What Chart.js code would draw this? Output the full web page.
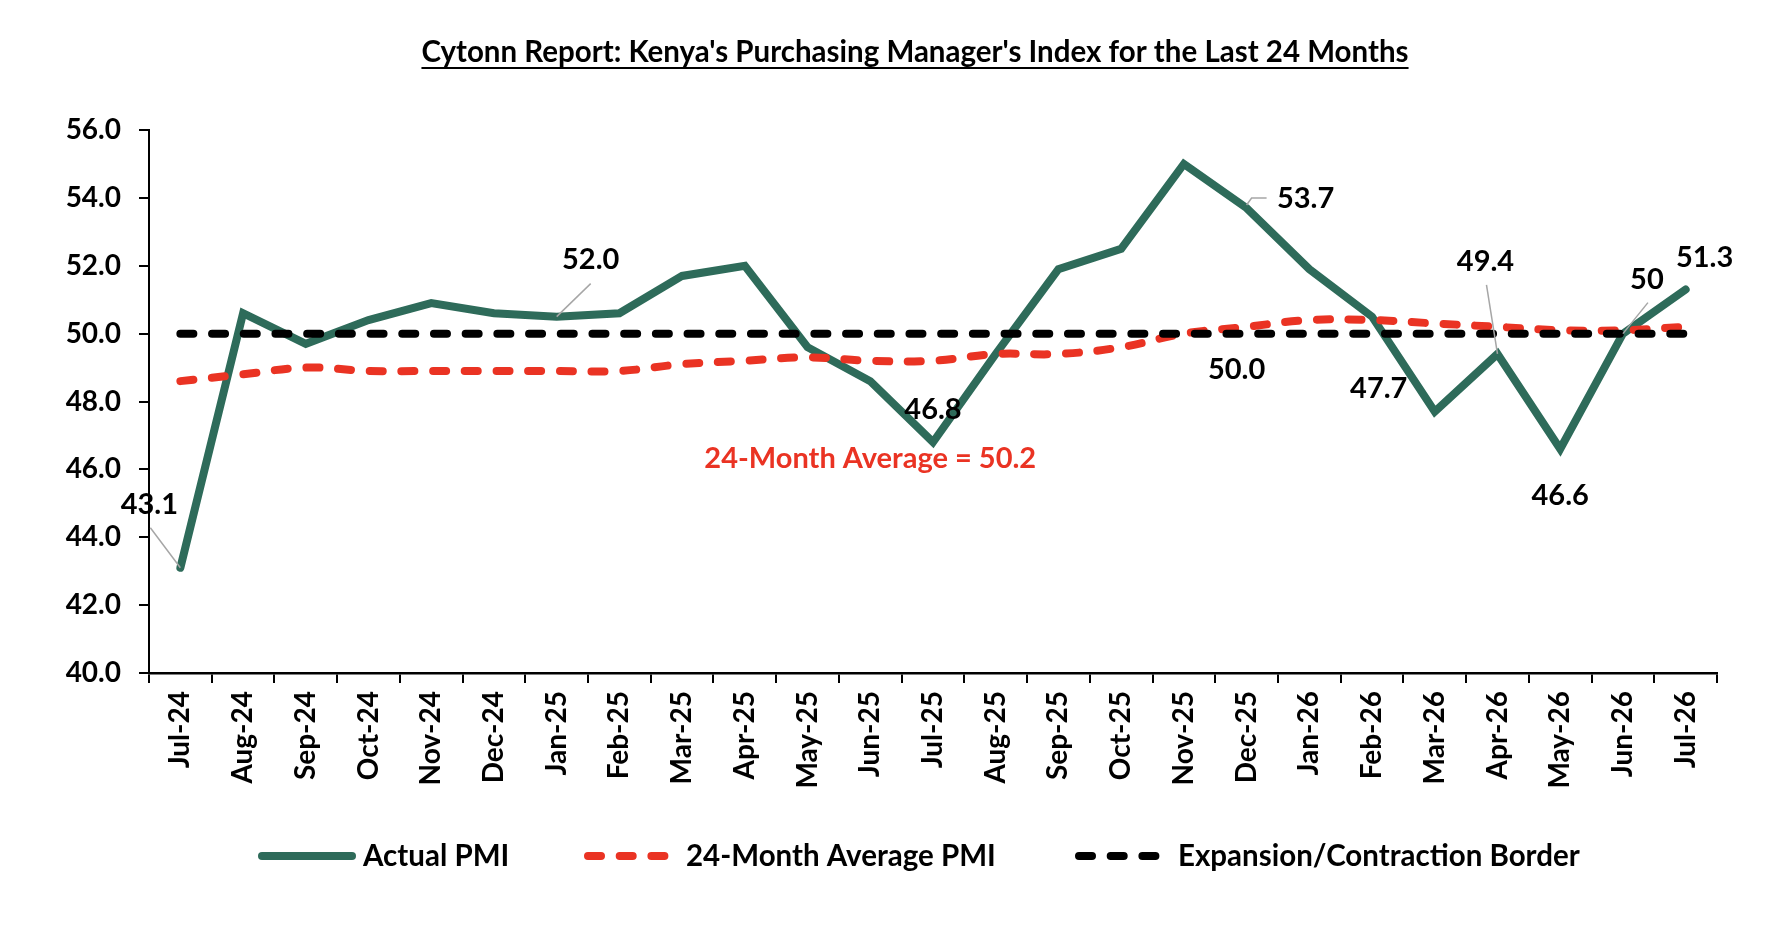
<!DOCTYPE html>
<html>
<head>
<meta charset="utf-8">
<script src="https://cdn.jsdelivr.net/npm/chart.js@4.4.1/dist/chart.umd.min.js"></script>
<style>
  html, body { margin: 0; padding: 0; background: #fff; }
  #wrap { width: 1780px; height: 938px; }
</style>
</head>
<body>
<div id="wrap"><canvas id="pmiChart" width="1780" height="938"></canvas></div>
<script>
// data
var months = ['Jul-24', 'Aug-24', 'Sep-24', 'Oct-24', 'Nov-24', 'Dec-24', 'Jan-25', 'Feb-25', 'Mar-25',
  'Apr-25', 'May-25', 'Jun-25', 'Jul-25', 'Aug-25', 'Sep-25', 'Oct-25', 'Nov-25', 'Dec-25', 'Jan-26',
  'Feb-26', 'Mar-26', 'Apr-26', 'May-26', 'Jun-26', 'Jul-26'];
var actualPMI = [43.1, 50.6, 49.7, 50.4, 50.9, 50.6, 50.5, 50.6, 51.7, 52.0, 49.6, 48.6, 46.8,
  49.4, 51.9, 52.5, 55.0, 53.7, 51.9, 50.5, 47.7, 49.4, 46.6, 50.0, 51.3];
var averagePMI = [48.6, 48.8, 49.0, 48.9, 48.9, 48.9, 48.9, 48.9, 49.1, 49.2, 49.3, 49.2, 49.2,
  49.4, 49.4, 49.6, 50.0, 50.2, 50.4, 50.4, 50.3, 50.2, 50.1, 50.1, 50.2];
var borderLine = [50, 50, 50, 50, 50, 50, 50, 50, 50, 50, 50, 50, 50,
  50, 50, 50, 50, 50, 50, 50, 50, 50, 50, 50, 50];
var yTicks = { min: 40, max: 56, step: 2 };

var titleText = "Cytonn Report: Kenya's Purchasing Manager's Index for the Last 24 Months";
var averageNote = '24-Month Average = 50.2';

// data labels on the Actual PMI line, offsets in px from the point, optional grey leader
var pointLabels = [
  { i: 0, text: '43.1', dx: -31, dy: -63, lead: [[-30, -40], [0, 0]] },
  { i: 6, text: '52.0', dx: 34, dy: -57, lead: [[34, -33], [0, 0]] },
  { i: 12, text: '46.8', dx: 0, dy: -33 },
  { i: 17, text: '53.7', dx: 59, dy: -9, lead: [[20, -10], [5, -10], [0, -3]] },
  { i: 17, text: '50.0', dx: -10, dy: 162 },
  { i: 20, text: '47.7', dx: -56, dy: -23 },
  { i: 21, text: '49.4', dx: -12, dy: -92, lead: [[-11, -69], [0, 0]] },
  { i: 22, text: '46.6', dx: 0, dy: 47 },
  { i: 23, text: '50', dx: 24, dy: -54, lead: [[25, -31], [0, 0]] },
  { i: 24, text: '51.3', dx: 19, dy: -32 }
];

var green = '#2E6B5A';
var red = '#EA3323';
var FONT = 'Lato, "Open Sans", sans-serif';

var extrasPlugin = {
  id: 'extras',
  afterDatasetsDraw: function(chart) {
    var c = chart.ctx;
    var pts = chart.getDatasetMeta(0).data;
    c.save();
    pointLabels.forEach(function(lb) {
      var p = pts[lb.i];
      if (lb.lead) {
        c.strokeStyle = '#A6A6A6';
        c.lineWidth = 1.5;
        c.beginPath();
        lb.lead.forEach(function(q, k) {
          if (k === 0) c.moveTo(p.x + q[0], p.y + q[1]);
          else c.lineTo(p.x + q[0], p.y + q[1]);
        });
        c.stroke();
      }
      c.fillStyle = '#000';
      c.font = 'bold 29px ' + FONT;
      c.textAlign = 'center';
      c.textBaseline = 'middle';
      c.fillText(lb.text, p.x + lb.dx, p.y + lb.dy);
    });
    // average note in red
    var xs = chart.scales.x, ys = chart.scales.y;
    c.fillStyle = red;
    c.font = 'bold 29px ' + FONT;
    c.fillText(averageNote, xs.getPixelForValue(11), ys.getPixelForValue(46.33));
    c.restore();
  },
  afterDraw: function(chart) {
    var c = chart.ctx;
    c.save();
    // underlined title
    c.font = 'bold 29.5px ' + FONT;
    c.fillStyle = '#000';
    c.textAlign = 'center';
    c.textBaseline = 'middle';
    var tx = 915, ty = 52;
    c.fillText(titleText, tx, ty);
    var w = c.measureText(titleText).width;
    c.fillRect(tx - w / 2, ty + 15, w, 2);
    // legend drawn from the dataset styles
    var legendY = 856;
    var items = [
      { x0: 262, x1: 352, tx: 363 },
      { x0: 588, x1: 672, tx: 686 },
      { x0: 1079, x1: 1163, tx: 1178 }
    ];
    chart.data.datasets.forEach(function(ds, k) {
      var it = items[k];
      c.strokeStyle = ds.borderColor;
      c.lineWidth = ds.borderWidth;
      c.lineCap = 'round';
      c.setLineDash(ds.borderDash || []);
      c.beginPath();
      c.moveTo(it.x0, legendY);
      c.lineTo(it.x1, legendY);
      c.stroke();
      c.setLineDash([]);
      c.fillStyle = '#000';
      c.font = 'bold 29.5px ' + FONT;
      c.textAlign = 'left';
      c.fillText(ds.label, it.tx, legendY);
    });
    c.restore();
  }
};

var ctx = document.getElementById('pmiChart').getContext('2d');
var pmiChart = new Chart(ctx, {
  type: 'line',
  data: {
    labels: months,
    datasets: [{
      label: 'Actual PMI',
      data: actualPMI,
      borderColor: green,
      borderWidth: 8,
      borderCapStyle: 'round',
      tension: 0,
      pointRadius: 0,
      order: 3
    }, {
      label: '24-Month Average PMI',
      data: averagePMI,
      borderColor: red,
      borderWidth: 8,
      borderDash: [13, 18.7],
      borderCapStyle: 'round',
      tension: 0.4,
      pointRadius: 0,
      order: 2
    }, {
      label: 'Expansion/Contraction Border',
      data: borderLine,
      borderColor: '#000',
      borderWidth: 8,
      borderDash: [13, 18.7],
      borderCapStyle: 'round',
      tension: 0,
      pointRadius: 0,
      order: 1
    }]
  },
  options: {
    responsive: false,
    devicePixelRatio: 1,
    animation: false,
    layout: { padding: { top: 130, right: 63, bottom: 0, left: 0 } },
    scales: {
      x: {
        offset: true,
        afterFit: function(s) { s.height = 265; },
        grid: { offset: true, drawOnChartArea: false, tickLength: 10, color: '#000', lineWidth: 2 },
        border: { color: '#000', width: 2.5 },
        ticks: {
          color: '#000',
          font: { family: FONT, size: 28, weight: 'bold' },
          minRotation: 90,
          maxRotation: 90,
          autoSkip: false,
          padding: 8
        }
      },
      y: {
        min: yTicks.min,
        max: yTicks.max,
        afterFit: function(s) { s.width = 149; },
        grid: { drawOnChartArea: false, tickLength: 10, color: '#000', lineWidth: 2 },
        border: { color: '#000', width: 2 },
        ticks: {
          stepSize: yTicks.step,
          color: '#000',
          padding: 18,
          font: { family: FONT, size: 28, weight: 'bold' },
          callback: function(v) { return Number(v).toFixed(1); }
        }
      }
    },
    plugins: {
      legend: { display: false },
      title: { display: false },
      tooltip: { enabled: false }
    }
  },
  plugins: [extrasPlugin]
});
</script>
</body>
</html>
